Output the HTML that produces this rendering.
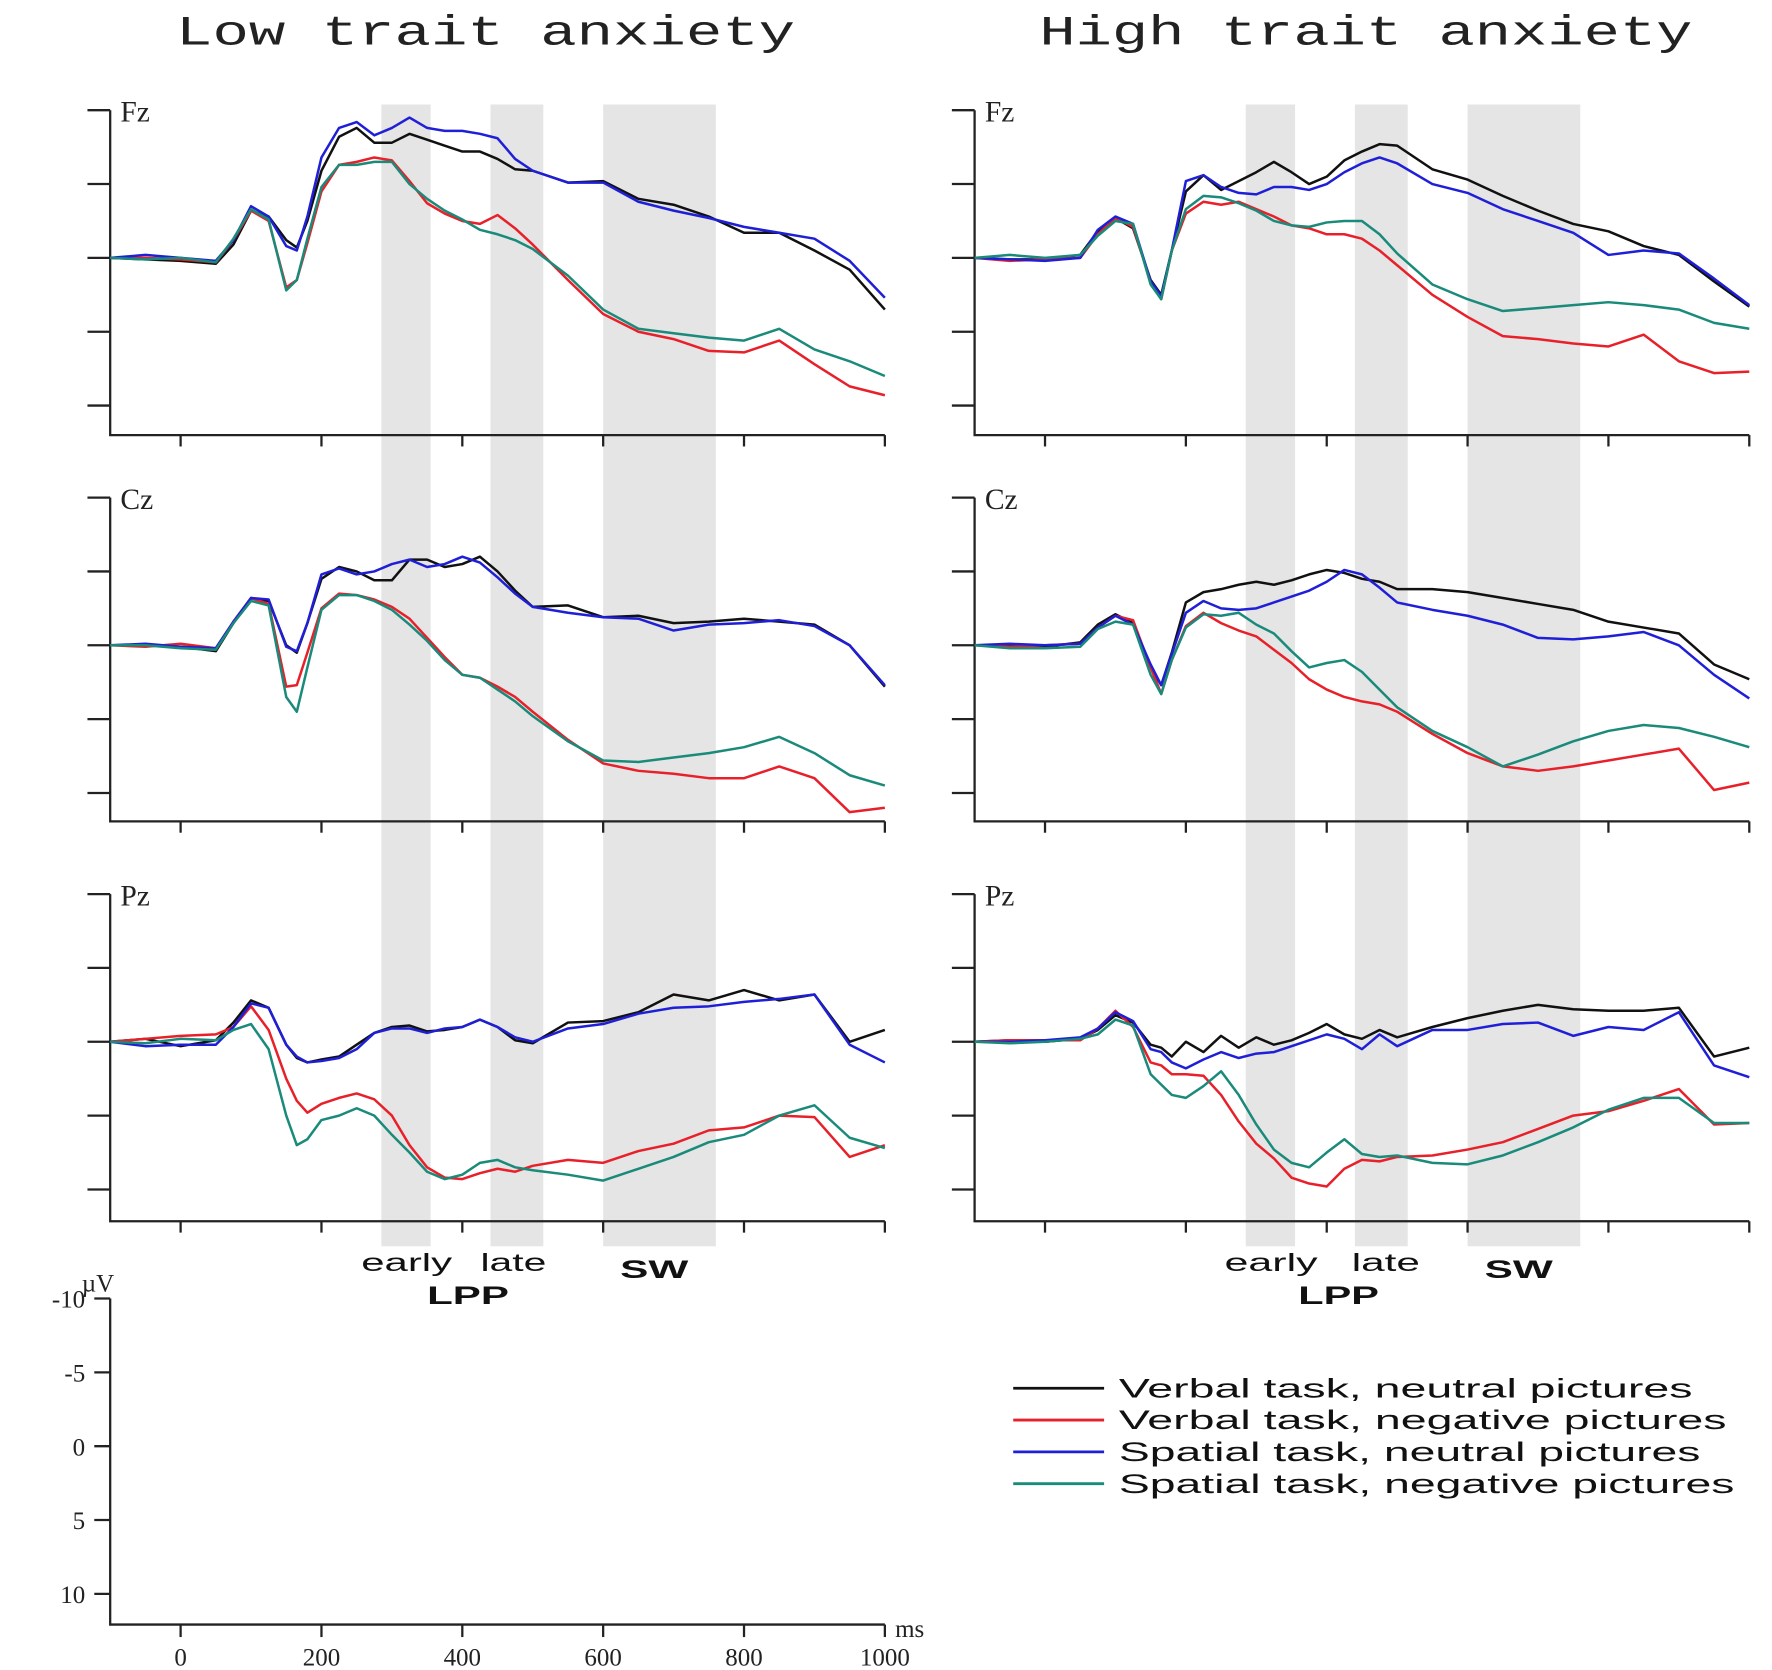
<!DOCTYPE html>
<html><head><meta charset="utf-8"><style>
html,body{margin:0;padding:0;background:#fff;}
svg{display:block;}
</style></head><body>
<svg id="chart" width="1772" height="1670" viewBox="0 0 1560 1470" preserveAspectRatio="none" xmlns="http://www.w3.org/2000/svg">
<g id="bands"></g>
<text x="155" y="39" textLength="545" lengthAdjust="spacingAndGlyphs" font-family="Liberation Mono, monospace" font-size="37" fill="#222">Low trait anxiety</text>
<text x="915" y="39" textLength="575" lengthAdjust="spacingAndGlyphs" font-family="Liberation Mono, monospace" font-size="37" fill="#222">High trait anxiety</text>
<g id="axes"></g>
<g id="curves"></g>
<g id="labels" font-family="Liberation Sans, sans-serif" fill="#111">
<text x="318" y="1119" textLength="80" lengthAdjust="spacingAndGlyphs" font-size="22">early</text>
<text x="423" y="1119" textLength="58" lengthAdjust="spacingAndGlyphs" font-size="22">late</text>
<text x="376" y="1148" textLength="72" lengthAdjust="spacingAndGlyphs" font-size="22" font-weight="bold">LPP</text>
<text x="546" y="1125" textLength="60" lengthAdjust="spacingAndGlyphs" font-size="22" font-weight="bold">SW</text>
<text x="1078" y="1119" textLength="82" lengthAdjust="spacingAndGlyphs" font-size="22">early</text>
<text x="1190" y="1119" textLength="60" lengthAdjust="spacingAndGlyphs" font-size="22">late</text>
<text x="1143" y="1148" textLength="71" lengthAdjust="spacingAndGlyphs" font-size="22" font-weight="bold">LPP</text>
<text x="1307" y="1125" textLength="60" lengthAdjust="spacingAndGlyphs" font-size="22" font-weight="bold">SW</text>
</g>
<g id="scale"></g>
<g id="legend" font-family="Liberation Sans, sans-serif" font-size="24" fill="#111">
<line x1="892" y1="1222" x2="972" y2="1222" stroke="#111" stroke-width="2.5"/>
<text x="985" y="1230" textLength="505" lengthAdjust="spacingAndGlyphs">Verbal task, neutral pictures</text>
<line x1="892" y1="1250" x2="972" y2="1250" stroke="#e8202a" stroke-width="2.5"/>
<text x="985" y="1258" textLength="535" lengthAdjust="spacingAndGlyphs">Verbal task, negative pictures</text>
<line x1="892" y1="1278" x2="972" y2="1278" stroke="#1f1fd8" stroke-width="2.5"/>
<text x="985" y="1286" textLength="512" lengthAdjust="spacingAndGlyphs">Spatial task, neutral pictures</text>
<line x1="892" y1="1306" x2="972" y2="1306" stroke="#1a8a7a" stroke-width="2.5"/>
<text x="985" y="1314" textLength="542" lengthAdjust="spacingAndGlyphs">Spatial task, negative pictures</text>
</g>
</svg>
<script>
const times=[-100,-50,0,50,75,100,125,150,165,180,200,225,250,275,300,325,350,375,400,425,450,475,500,550,600,650,700,750,800,850,900,950,1000];
const windows=[[285,355],[440,515],[600,760]];
const yTicks=[-10,-5,0,5,10];
const xTicks=[0,200,400,600,800,1000];
const electrodes=["Fz","Cz","Pz"];
const colors=["#111111","#e8202a","#1f1fd8","#1a8a7a"];
const seriesNames=["verbal-neutral","verbal-negative","spatial-neutral","spatial-negative"];
// Low anxiety
const lowFzBlack=[0,0.1,0.2,0.4,-0.9,-3.2,-2.8,-1.2,-0.7,-2.5,-5.9,-8.2,-8.8,-7.8,-7.8,-8.4,-8.0,-7.6,-7.2,-7.2,-6.7,-6.0,-5.9,-5.1,-5.2,-4.0,-3.6,-2.8,-1.7,-1.7,-0.5,0.8,3.5];
const lowFzRed=[0,0,0.1,0.3,-1.2,-3.2,-2.5,2.0,1.5,-1.0,-4.5,-6.3,-6.5,-6.8,-6.6,-5.2,-3.7,-3.0,-2.5,-2.3,-2.9,-2.0,-0.9,1.5,3.8,5.0,5.5,6.3,6.4,5.6,7.2,8.7,9.3];
const lowFzBlue=[0,-0.2,0,0.2,-1.2,-3.5,-2.8,-0.8,-0.5,-2.8,-6.8,-8.8,-9.2,-8.3,-8.8,-9.5,-8.8,-8.6,-8.6,-8.4,-8.1,-6.7,-5.9,-5.1,-5.1,-3.8,-3.2,-2.7,-2.1,-1.7,-1.3,0.2,2.7];
const lowFzTeal=[0,0.1,0,0.3,-1.3,-3.3,-2.6,2.2,1.5,-1.3,-4.8,-6.3,-6.3,-6.5,-6.5,-5.0,-4.0,-3.2,-2.6,-1.9,-1.6,-1.2,-0.6,1.2,3.5,4.8,5.1,5.4,5.6,4.8,6.2,7.0,8.0];
const lowCzBlack=[0,0,0.1,0.4,-1.5,-3.2,-3.0,0.0,0.5,-1.5,-4.5,-5.3,-5.0,-4.4,-4.4,-5.8,-5.8,-5.3,-5.5,-6.0,-5.0,-3.7,-2.6,-2.7,-1.9,-2.0,-1.5,-1.6,-1.8,-1.6,-1.4,0.0,2.8];
const lowCzRed=[0,0.1,-0.1,0.2,-1.6,-3.2,-2.8,2.8,2.7,0.5,-2.5,-3.5,-3.4,-3.1,-2.6,-1.8,-0.5,0.8,2.0,2.2,2.8,3.5,4.5,6.4,8.0,8.5,8.7,9.0,9.0,8.2,9.0,11.3,11.0];
const lowCzBlue=[0,-0.1,0.1,0.2,-1.6,-3.2,-3.1,0.1,0.4,-1.5,-4.8,-5.2,-4.8,-5.0,-5.5,-5.8,-5.3,-5.5,-6.0,-5.6,-4.6,-3.5,-2.6,-2.2,-1.9,-1.8,-1.0,-1.4,-1.5,-1.7,-1.3,0.0,2.7];
const lowCzTeal=[0,0,0.2,0.3,-1.5,-3.0,-2.7,3.5,4.5,1.5,-2.4,-3.4,-3.4,-3.0,-2.4,-1.4,-0.3,1.0,2.0,2.2,3.0,3.8,4.8,6.5,7.8,7.9,7.6,7.3,6.9,6.2,7.3,8.8,9.5];
const lowPzBlack=[0,-0.2,0.3,-0.1,-1.3,-2.8,-2.3,0.2,1.1,1.4,1.2,1.0,0.2,-0.6,-1.0,-1.1,-0.7,-0.8,-1.0,-1.5,-1.0,-0.1,0.1,-1.3,-1.4,-2.0,-3.2,-2.8,-3.5,-2.8,-3.2,0.0,-0.8];
const lowPzRed=[0,-0.2,-0.4,-0.5,-1.0,-2.4,-0.8,2.5,4.0,4.8,4.2,3.8,3.5,3.9,5.0,7.0,8.5,9.2,9.3,8.9,8.6,8.8,8.4,8.0,8.2,7.4,6.9,6.0,5.8,5.0,5.1,7.8,7.0];
const lowPzBlue=[0,0.3,0.2,0.2,-1.0,-2.6,-2.3,0.2,1.0,1.4,1.3,1.1,0.5,-0.6,-0.9,-0.9,-0.6,-0.9,-1.0,-1.5,-1.0,-0.3,0.0,-0.9,-1.2,-1.9,-2.3,-2.4,-2.7,-2.9,-3.2,0.2,1.4];
const lowPzTeal=[0,0.1,-0.2,-0.1,-0.8,-1.2,0.5,5.0,7.0,6.6,5.3,5.0,4.5,5.0,6.3,7.5,8.8,9.3,9.0,8.2,8.0,8.5,8.7,9.0,9.4,8.6,7.8,6.8,6.3,5.0,4.3,6.5,7.2];
// High anxiety
const highFzBlack=[0,0.1,0.1,-0.2,-1.8,-2.7,-2.0,1.5,2.5,-0.5,-4.5,-5.6,-4.6,-5.2,-5.8,-6.5,-5.8,-5.0,-5.5,-6.6,-7.2,-7.7,-7.6,-6.0,-5.3,-4.2,-3.2,-2.3,-1.8,-0.8,-0.2,1.6,3.3];
const highFzRed=[0,0.2,0.1,0,-1.6,-2.7,-2.1,1.6,2.8,-0.5,-3.0,-3.8,-3.6,-3.8,-3.3,-2.8,-2.2,-2.0,-1.6,-1.6,-1.3,-0.5,0.5,2.5,4.0,5.3,5.5,5.8,6.0,5.2,7.0,7.8,7.7];
const highFzBlue=[0,0.1,0.2,0,-1.9,-2.8,-2.3,1.6,2.6,-0.5,-5.2,-5.6,-4.8,-4.4,-4.3,-4.8,-4.8,-4.6,-5.0,-5.8,-6.4,-6.8,-6.4,-5.0,-4.4,-3.3,-2.5,-1.7,-0.2,-0.5,-0.3,1.4,3.2];
const highFzTeal=[0,-0.2,0,-0.2,-1.5,-2.5,-2.3,1.8,2.8,-0.5,-3.3,-4.2,-4.1,-3.7,-3.2,-2.5,-2.2,-2.1,-2.4,-2.5,-2.5,-1.6,-0.3,1.8,2.8,3.6,3.4,3.2,3.0,3.2,3.5,4.4,4.8];
const highCzBlack=[0,0,0.1,-0.2,-1.4,-2.1,-1.5,1.5,2.7,0.5,-2.9,-3.6,-3.8,-4.1,-4.3,-4.1,-4.4,-4.8,-5.1,-4.9,-4.5,-4.3,-3.8,-3.8,-3.6,-3.2,-2.8,-2.4,-1.6,-1.2,-0.8,1.3,2.3];
const highCzRed=[0,0.1,0,-0.1,-1.2,-2.0,-1.7,1.5,3.3,1.0,-1.3,-2.2,-1.5,-1.0,-0.6,0.3,1.2,2.3,3.0,3.5,3.8,4.0,4.5,6.0,7.3,8.2,8.5,8.2,7.8,7.4,7.0,9.8,9.3];
const highCzBlue=[0,-0.1,0,-0.1,-1.2,-2.0,-1.4,1.3,2.7,0.6,-2.2,-3.0,-2.5,-2.4,-2.5,-2.9,-3.3,-3.7,-4.3,-5.1,-4.8,-3.9,-2.9,-2.4,-2.0,-1.4,-0.5,-0.4,-0.6,-0.9,0.0,2.0,3.6];
const highCzTeal=[0,0.2,0.2,0.1,-1.1,-1.6,-1.4,2.0,3.3,1.0,-1.2,-2.1,-2.0,-2.2,-1.4,-0.8,0.4,1.5,1.2,1.0,1.8,3.0,4.2,5.8,6.9,8.2,7.4,6.5,5.8,5.4,5.6,6.2,6.9];
const highPzBlack=[0,-0.1,0,-0.2,-0.8,-1.8,-1.3,0.2,0.4,1.0,0.0,0.7,-0.4,0.4,-0.3,0.2,-0.1,-0.6,-1.2,-0.5,-0.2,-0.8,-0.3,-1.0,-1.6,-2.1,-2.5,-2.2,-2.1,-2.1,-2.3,1.0,0.4];
const highPzRed=[0,-0.1,-0.1,-0.1,-0.9,-2.1,-1.0,1.4,1.6,2.2,2.2,2.3,3.6,5.4,6.9,7.9,9.2,9.6,9.8,8.6,8.0,8.1,7.8,7.7,7.3,6.8,5.9,5.0,4.7,4.0,3.2,5.6,5.5];
const highPzBlue=[0,0,-0.1,-0.3,-0.9,-2.0,-1.4,0.5,0.7,1.4,1.8,1.2,0.7,1.1,0.8,0.7,0.3,-0.1,-0.5,-0.2,0.5,-0.5,0.3,-0.8,-0.8,-1.2,-1.3,-0.4,-1.0,-0.8,-2.0,1.6,2.4];
const highPzTeal=[0,0.1,0,-0.2,-0.5,-1.5,-1.1,2.2,2.9,3.6,3.8,3.0,2.0,3.6,5.6,7.3,8.2,8.5,7.5,6.6,7.6,7.8,7.7,8.2,8.3,7.7,6.8,5.8,4.6,3.8,3.8,5.5,5.5];

const NS="http://www.w3.org/2000/svg";
function mk(tag,attrs,parent){const e=document.createElementNS(NS,tag);for(const k in attrs)e.setAttribute(k,attrs[k]);parent.appendChild(e);return e;}
const groupsData=[
 [[lowFzBlack,lowFzRed,lowFzBlue,lowFzTeal],[lowCzBlack,lowCzRed,lowCzBlue,lowCzTeal],[lowPzBlack,lowPzRed,lowPzBlue,lowPzTeal]],
 [[highFzBlack,highFzRed,highFzBlue,highFzTeal],[highCzBlack,highCzRed,highCzBlue,highCzTeal],[highPzBlack,highPzRed,highPzBlue,highPzTeal]]
];
const colZero=[159,920];
const pxPerMs=0.62;
const rowZero=[227,568,917];
const pxPerUv=13;
const axisPad=[383-227,723-568,1075-917];
function xScale(c,t){return colZero[c]+t*pxPerMs;}
function yScale(r,v){return rowZero[r]+v*pxPerUv;}
const bands=document.getElementById('bands'),axes=document.getElementById('axes'),curves=document.getElementById('curves'),scale=document.getElementById('scale');
for(let c=0;c<2;c++){
  windows.forEach((w,i)=>{
    const r=mk('rect',{x:xScale(c,w[0]),y:92,width:(w[1]-w[0])*pxPerMs,height:1005,fill:'#e5e5e5'},bands);
    
    
  });
  for(let r=0;r<3;r++){
    const ax=xScale(c,-100), x1=xScale(c,1000), top=yScale(r,-10), bot=rowZero[r]+axisPad[r];
    const g=mk('g',{stroke:'#222','stroke-width':2,fill:'none'},axes);
    
    
    mk('path',{d:`M${ax},${top}V${bot}H${x1}`},g);
    yTicks.forEach(v=>mk('line',{x1:ax-20,x2:ax,y1:yScale(r,v),y2:yScale(r,v)},g));
    xTicks.forEach(t=>mk('line',{x1:xScale(c,t),x2:xScale(c,t),y1:bot,y2:bot+10},g));
    const lab=mk('text',{x:ax+9,y:top+10,'font-family':'Liberation Serif, serif','font-size':26,fill:'#222'},axes);
    lab.textContent=electrodes[r];
    
    
    groupsData[c][r].forEach((vals,s)=>{
      const d=vals.map((v,i)=>(i?'L':'M')+xScale(c,times[i]).toFixed(1)+','+yScale(r,v).toFixed(1)).join('');
      const p=mk('path',{d:d,stroke:colors[s],'stroke-width':2.2,fill:'none','stroke-linejoin':'round'},curves);
      
      
    });
  }
}
const sZero=1273, sx=97;
const sg=mk('g',{stroke:'#222','stroke-width':2,fill:'none'},scale);


mk('path',{d:`M${sx},${sZero-130}V1430H779`},sg);
yTicks.forEach(v=>{
  const y=sZero+v*pxPerUv;
  mk('line',{x1:sx-14,x2:sx,y1:y,y2:y},sg);
  const t=mk('text',{x:sx-22,y:y+8,'text-anchor':'end','font-family':'Liberation Serif, serif','font-size':22,fill:'#222'},scale);
  t.textContent=String(v);
  
  
});
xTicks.forEach(tm=>{
  const x=xScale(0,tm);
  mk('line',{x1:x,x2:x,y1:1430,y2:1441},sg);
  const t=mk('text',{x:x,y:1466,'text-anchor':'middle','font-family':'Liberation Serif, serif','font-size':22,fill:'#222'},scale);
  t.textContent=String(tm);
  
  
});
const uv=mk('text',{x:72,y:1137,'font-family':'Liberation Serif, serif','font-size':22,fill:'#222'},scale);
uv.textContent='µV';


const ms=mk('text',{x:788,y:1441,'font-family':'Liberation Serif, serif','font-size':22,fill:'#222'},scale);
ms.textContent='ms';


</script>
</body></html>
